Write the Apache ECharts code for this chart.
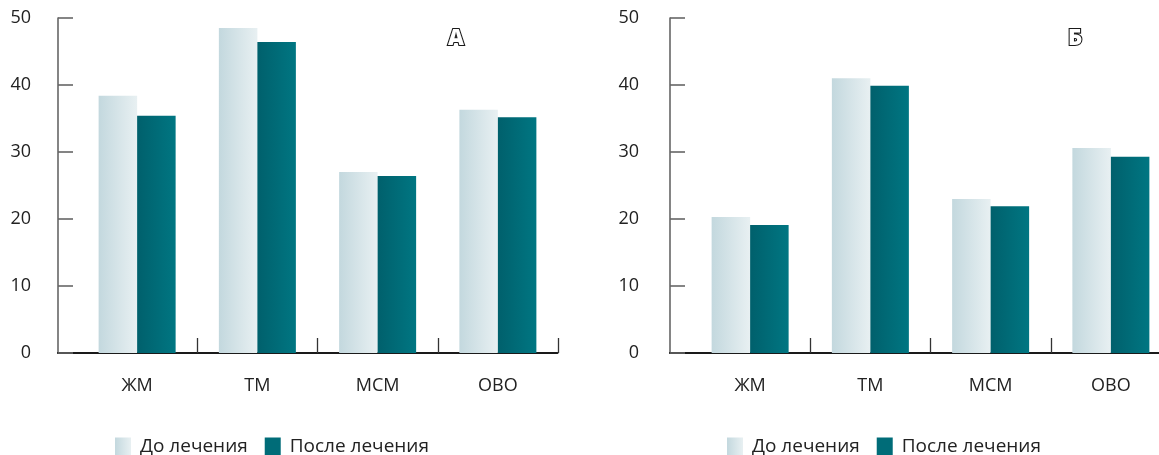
<!DOCTYPE html>
<html>
<head>
<meta charset="utf-8">
<script src="https://cdn.jsdelivr.net/npm/echarts@6/dist/echarts.min.js"></script>
<style>
html,body{margin:0;padding:0;background:#fff;overflow:hidden;width:1159px;height:455px;}
#c{width:1200px;height:455px;}
</style>
</head>
<body>
<div id="c"></div>
<script>
const categories = ['ЖМ', 'ТМ', 'МСМ', 'ОВО'];
const seriesNames = ['До лечения', 'После лечения'];
const beforeA = [38.4, 48.5, 27.0, 36.3];
const afterA  = [35.4, 46.4, 26.4, 35.2];
const beforeB = [20.3, 41.0, 23.0, 30.6];
const afterB  = [19.1, 39.9, 21.9, 29.3];
const yTicks = [0, 10, 20, 30, 40, 50];
const panelLetters = ['А', 'Б'];

const FONT = '"Open Sans", "Noto Sans", sans-serif';
const beforeColor = {type:'linear', x:0, y:0, x2:1, y2:0, colorStops:[{offset:0,color:'#c3d8de'},{offset:1,color:'#e8f0f2'}]};
const afterColor = {type:'linear', x:0, y:0, x2:1, y2:0, colorStops:[{offset:0,color:'#00606c'},{offset:1,color:'#007682'}]};

const chart = echarts.init(document.getElementById('c'), null, {renderer:'canvas'});

const TOP = 18, H = 335;
const panels = [
  {left:77, width:481, yOffset:19, labelMargin:27, axisLeft:58, axisWidth:499.5, before:beforeA, after:afterA},
  {left:690, width:481, yOffset:20, labelMargin:31, axisLeft:670, axisWidth:520, before:beforeB, after:afterB}
];

const grid = [], xAxis = [], yAxis = [], series = [];
panels.forEach((p, i) => {
  grid.push({left:p.left, width:p.width, top:TOP, height:H, containLabel:false});
  grid.push({left:p.axisLeft, width:p.axisWidth, top:TOP, height:H, containLabel:false});
  const gMain = i*2, gLine = i*2+1;
  xAxis.push({
    type:'category', gridIndex:gMain, data:categories, boundaryGap:true,
    axisLine:{show:false},
    axisTick:{show:true, inside:true, length:15, interval:(idx)=>idx!==0, lineStyle:{color:'#333', width:1.3}},
    axisLabel:{color:'#222', fontSize:18, fontFamily:FONT, margin:24}
  });
  xAxis.push({
    type:'value', gridIndex:gLine, min:0, max:1,
    axisLine:{show:true, lineStyle:{color:'#1a1a1a', width:2}},
    axisTick:{show:false}, axisLabel:{show:false}, splitLine:{show:false}
  });
  yAxis.push({
    type:'value', gridIndex:gMain, min:yTicks[0], max:yTicks[yTicks.length-1], interval:10,
    offset:p.yOffset,
    axisLine:{show:true, lineStyle:{color:'#666', width:1.6}},
    axisTick:{show:true, inside:true, length:15, lineStyle:{color:'#666', width:1.6}},
    axisLabel:{color:'#222', fontSize:18, fontFamily:FONT, margin:p.labelMargin},
    splitLine:{show:false}
  });
  yAxis.push({type:'value', gridIndex:gLine, min:0, max:1, show:false});
  series.push({
    name:seriesNames[0], type:'bar', xAxisIndex:gMain, yAxisIndex:gMain, data:p.before,
    barWidth:38.5, barGap:'0%', itemStyle:{color:beforeColor}, silent:true
  });
  series.push({
    name:seriesNames[1], type:'bar', xAxisIndex:gMain, yAxisIndex:gMain, data:p.after,
    barWidth:38.5, barGap:'0%', itemStyle:{color:afterColor}, silent:true
  });
});

const legendCommon = {
  data:[{name:seriesNames[0], itemStyle:{color:beforeColor}}, {name:seriesNames[1], itemStyle:{color:'#006c78'}}],
  icon:'rect', itemWidth:16, itemHeight:18, itemGap:17, top:437, padding:0,
  textStyle:{color:'#222', fontSize:19, fontFamily:FONT, padding:[0,0,0,4]}
};

const letterStyle = {fontSize:22, fontWeight:900, fontFamily:FONT, color:'#fff', textBorderColor:'#1a1a1a', textBorderWidth:2.2};

chart.setOption({
  animation:false,
  grid, xAxis, yAxis, series,
  legend:[
    Object.assign({}, legendCommon, {left:115}),
    Object.assign({}, legendCommon, {left:727})
  ],
  title:[
    {text:panelLetters[0], left:443, top:23, textStyle:letterStyle},
    {text:panelLetters[1], left:1063, top:23, textStyle:letterStyle}
  ]
});
</script>
</body>
</html>
